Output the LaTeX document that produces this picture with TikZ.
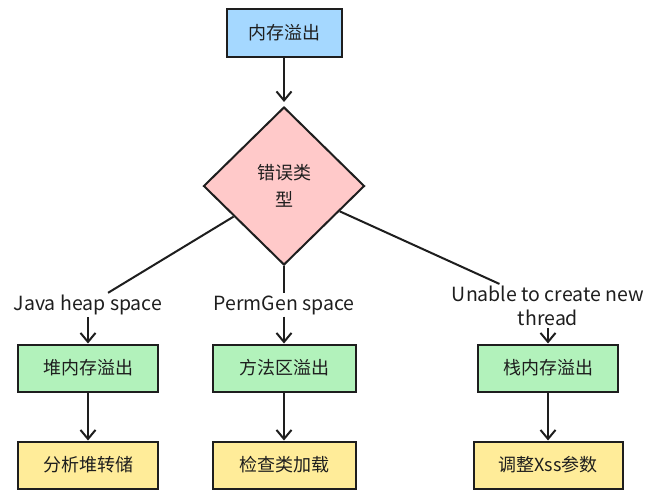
\documentclass[tikz,border=0pt]{standalone}
\usepackage{fontspec}
\setmainfont{Noto Sans CJK SC}
\usetikzlibrary{shapes.geometric, arrows.meta}
\definecolor{ink}{HTML}{1E1E1E}
\definecolor{skyfill}{HTML}{A5D8FF}
\definecolor{rosefill}{HTML}{FFC9C9}
\definecolor{mintfill}{HTML}{B2F2BB}
\definecolor{sandfill}{HTML}{FFEC99}

\begin{document}
\begin{tikzpicture}[
  x=1pt, y=-1pt,
  every node/.style={font=\fontsize{18}{27}\selectfont, text=ink},
  box/.style={draw=ink, line width=2pt, minimum width=140pt, minimum height=47pt},
  blue/.style={box, fill=skyfill},
  red/.style={box, fill=rosefill, diamond, align=center},
  green/.style={box, fill=mintfill},
  yellow/.style={box, fill=sandfill},
  lbl/.style={font=\fontsize{19.5}{24}\selectfont, inner sep=2pt, align=center},
  line/.style={draw=ink, line width=2pt},
  arr/.style={line, -{Straight Barb[length=9pt, width=15pt]}}
]
\useasboundingbox (0,0) rectangle (660,499);
\node[blue, minimum width=115pt, minimum height=48pt] (oom) at (284,33) {内存溢出};
\node[red, minimum width=161pt, minimum height=158pt] (kind) at (284,186) {错误类\\型};
% branches
\node[lbl] (ljava) at (88,305) {Java heap space};
\node[lbl] (lperm) at (284,305) {PermGen space};
\node[lbl] (lthread) at (548,306) {Unable to create new\\thread};
\node[green] (heap) at (88,368) {堆内存溢出};
\node[green, minimum width=143pt] (perm) at (284,368) {方法区溢出};
\node[green] (stack) at (548,368) {栈内存溢出};
\node[yellow] (dump) at (88,465) {分析堆转储};
\node[yellow, minimum width=143pt] (cls) at (284,465) {检查类加载};
\node[yellow, minimum width=149pt] (xss) at (548,465) {调整Xss参数};

\draw[arr, shorten >=4pt] (oom) -- (kind);
\draw[line] (kind) -- (ljava);
\draw[line] (kind) -- (lperm);
\draw[line] (kind) -- (lthread);
\draw[arr] (ljava) -- (heap);
\draw[arr] (lperm) -- (perm);
\draw[arr] (lthread) -- (stack);
\draw[arr] (heap) -- (dump);
\draw[arr] (perm) -- (cls);
\draw[arr] (stack) -- (xss);
\end{tikzpicture}
\end{document}
